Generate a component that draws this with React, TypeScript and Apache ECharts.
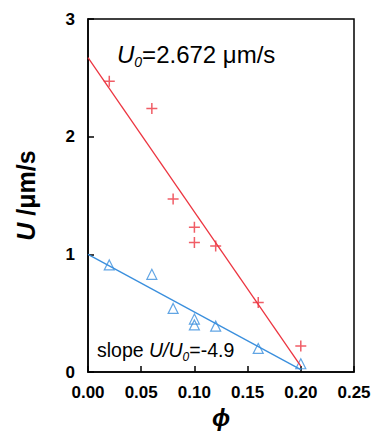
import React, { useEffect, useRef } from "react";
import * as echarts from "echarts";

const redPoints: [number, number][] = [
  [0.02, 2.47], [0.06, 2.24], [0.08, 1.47], [0.10, 1.23],
  [0.10, 1.10], [0.12, 1.07], [0.16, 0.59], [0.20, 0.22],
];
const bluePoints: [number, number][] = [
  [0.02, 0.91], [0.06, 0.83], [0.08, 0.54], [0.10, 0.45],
  [0.10, 0.40], [0.12, 0.39], [0.16, 0.20], [0.20, 0.07],
];
const redFit: [number, number][] = [[0, 2.672], [0.2, 0.05]];
const blueFit: [number, number][] = [[0, 1.0], [0.2, 0.02]];
const xTicks = ["0.00", "0.05", "0.10", "0.15", "0.20", "0.25"];

const RED = "#ec3540";
const BLUE = "#3a8fdd";
const FONT = "Arial, 'Liberation Sans', sans-serif";

export default function App() {
  const ref = useRef<HTMLDivElement>(null);
  useEffect(() => {
    if (!ref.current) return;
    const chart = echarts.init(ref.current, undefined, { renderer: "svg" });
    chart.setOption({
      animation: false,
      backgroundColor: "#fff",
      grid: {
        left: 88, right: 21, top: 19, bottom: 59,
        containLabel: false, outerBoundsMode: "none",
        show: true, borderColor: "#000", borderWidth: 1.5,
      },
      xAxis: {
        type: "value", min: 0, max: 0.25, interval: 0.05,
        name: "ϕ", nameLocation: "middle", nameGap: 32,
        nameTextStyle: { fontFamily: FONT, fontSize: 24, fontWeight: "bold", fontStyle: "italic", color: "#000" },
        axisLine: { show: true, lineStyle: { color: "#000", width: 1.5 } },
        axisTick: { show: true, inside: true, length: 6, lineStyle: { color: "#000", width: 1.5 } },
        splitLine: { show: false },
        axisLabel: {
          fontFamily: FONT, fontSize: 17, fontWeight: "bold", color: "#000", margin: 12,
          formatter: (v: number) => xTicks[Math.round(v / 0.05)] ?? "",
        },
      },
      yAxis: {
        type: "value", min: 0, max: 3, interval: 1,
        name: "{i|U} /μm/s", nameLocation: "middle", nameGap: 50, nameRotate: 90,
        nameTextStyle: {
          fontFamily: FONT, fontSize: 25, fontWeight: "bold", color: "#000",
          rich: { i: { fontFamily: FONT, fontSize: 25, fontWeight: "bold", fontStyle: "italic", color: "#000" } },
        },
        axisLine: { show: true, lineStyle: { color: "#000", width: 1.5 } },
        axisTick: { show: true, inside: true, length: 6, lineStyle: { color: "#000", width: 1.5 } },
        splitLine: { show: false },
        axisLabel: { fontFamily: FONT, fontSize: 17, fontWeight: "bold", color: "#000", margin: 13 },
      },
      graphic: [
        {
          type: "text", left: 117, top: 42,
          style: {
            text: "{u|U}{s|0}{n|=2.672 μm/s}",
            rich: {
              u: { fontFamily: FONT, fontSize: 24, fontStyle: "italic", fill: "#000" },
              s: { fontFamily: FONT, fontSize: 14, fontStyle: "italic", fill: "#000", padding: [15, 0, 0, 0] },
              n: { fontFamily: FONT, fontSize: 24, fill: "#000" },
            },
          },
        },
        {
          type: "text", left: 97, top: 340,
          style: {
            text: "{n|slope }{u|U/U}{s|0}{n|=-4.9}",
            rich: {
              n: { fontFamily: FONT, fontSize: 19.5, fill: "#000" },
              u: { fontFamily: FONT, fontSize: 19.5, fontStyle: "italic", fill: "#000" },
              s: { fontFamily: FONT, fontSize: 12, fontStyle: "italic", fill: "#000", padding: [13, 0, 0, 0] },
            },
          },
        },
      ],
      series: [
        {
          type: "line", data: redFit, symbol: "none", silent: true,
          lineStyle: { color: RED, width: 1.3 },
        },
        {
          type: "line", data: blueFit, symbol: "none", silent: true,
          lineStyle: { color: BLUE, width: 1.3 },
        },
        {
          type: "scatter", data: redPoints,
          symbol: "path://M0,5L10,5M5,0L5,10", symbolSize: 11,
          itemStyle: { color: "none", borderColor: RED, borderWidth: 1.5 },
        },
        {
          type: "scatter", data: bluePoints,
          symbol: "triangle", symbolSize: 10,
          itemStyle: { color: "none", borderColor: BLUE, borderWidth: 1.2 },
        },
      ],
    });
    return () => chart.dispose();
  }, []);
  return <div ref={ref} style={{ width: 375, height: 431, position: "absolute", left: 0, top: 0 }} />;
}
